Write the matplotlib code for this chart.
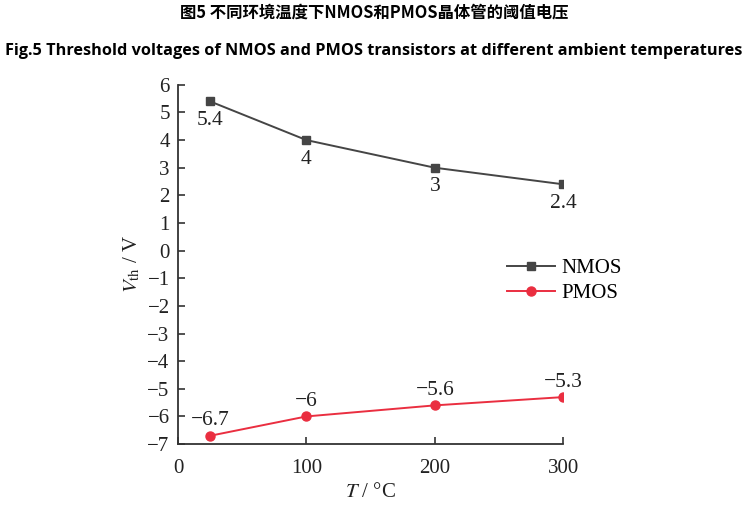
import numpy as np
import matplotlib
matplotlib.use("Agg")
import matplotlib.pyplot as plt

plt.rcParams["mathtext.fontset"] = "stix"

temps = [25, 100, 200, 300]
nmos = [5.4, 4, 3, 2.4]
pmos = [-6.7, -6, -5.6, -5.3]
nmos_labels = ["5.4", "4", "3", "2.4"]
pmos_labels = ["\u22126.7", "\u22126", "\u22125.6", "\u22125.3"]
yticks = list(range(-7, 7))
xticks = [0, 100, 200, 300]

serif = ["Liberation Serif", "DejaVu Serif"]

fig = plt.figure(figsize=(7.48, 5.11), dpi=100)
ax = fig.add_axes([0.238, 0.131, 0.515, 0.703])

ax.plot(temps, nmos, color="#454545", marker="s", markersize=6, lw=1.4, label="NMOS")
ax.plot(temps, pmos, color="#ea2e40", marker="o", markersize=6.5, lw=1.4, label="PMOS")

# data labels: below for NMOS, above for PMOS
for x, y, s in zip(temps, nmos, nmos_labels):
    ax.annotate(s, (x, y), xytext=(0, -7), textcoords="offset points",
                ha="center", va="top", fontsize=15.5, family=serif, color="#222222")
for x, y, s in zip(temps, pmos, pmos_labels):
    ax.annotate(s, (x, y), xytext=(0, 4), textcoords="offset points",
                ha="center", va="bottom", fontsize=15.5, family=serif, color="#222222")

ax.set_xlim(0, 300)
ax.set_ylim(-7, 6)
ax.set_xticks(xticks)
ax.set_yticks(yticks)
ax.set_yticklabels([str(t).replace("-", "\u2212") for t in yticks])
ax.spines["top"].set_visible(False)
ax.spines["right"].set_visible(False)
for sp in ("left", "bottom"):
    ax.spines[sp].set_linewidth(1.3)
    ax.spines[sp].set_color("#333333")
ax.tick_params(direction="in", length=5, width=1.2, colors="#333333", labelsize=15)
ax.tick_params(axis="x", pad=11)
ax.tick_params(axis="y", pad=6)
for lab in ax.get_xticklabels() + ax.get_yticklabels():
    lab.set_family(serif)
    lab.set_color("#222222")

ax.set_xlabel("$T$ / \u00b0C", fontsize=15, family=serif, color="#222222", labelpad=3)
ax.set_ylabel("$V_{\\rm th}$ / V", fontsize=15, family=serif, color="#222222", labelpad=4)

leg = ax.legend(loc="center left", bbox_to_anchor=(0.855, 0.454), frameon=False,
                borderaxespad=0, borderpad=0,
                prop={"family": serif, "size": 15}, handlelength=2.3,
                handletextpad=0.3, labelspacing=0.25)

fig.text(0.5, 0.975, "图5 不同环境温度下NMOS和PMOS晶体管的阈值电压", ha="center", va="center",
         fontsize=11.8, fontweight="bold", family=["Noto Sans CJK SC", "DejaVu Sans"])
fig.text(0.5, 0.9, "Fig.5 Threshold voltages of NMOS and PMOS transistors at different ambient temperatures",
         ha="center", va="center", fontsize=11.7, fontweight="bold", family=["Open Sans", "DejaVu Sans"])

fig.savefig("out.png", dpi=100)
